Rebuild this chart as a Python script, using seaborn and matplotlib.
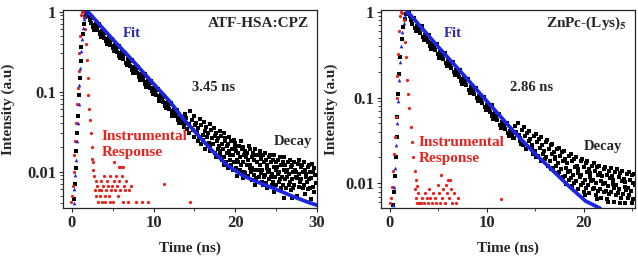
import matplotlib
matplotlib.use("Agg")
import matplotlib.pyplot as plt
import matplotlib.ticker as mticker
import seaborn as sns

# ---------------- data ----------------
# Panel A: ATF-HSA:CPZ
decay_a_t = [
    0.25, 0.35, 0.45, 0.55, 0.65, 0.75, 0.85, 0.95, 1.05, 1.15, 1.3, 1.45, 1.6, 1.75, 1.9,
    2.1, 2.3, 2.5, 2.7, 2.9, 3.1, 3.3, 3.5, 3.7, 3.9, 4.1, 4.3, 4.5, 4.7, 4.9, 5.1, 5.3, 5.5,
    5.7, 5.9, 6.1, 6.3, 6.5, 6.7, 6.9, 7.1, 7.3, 7.5, 7.7, 7.9, 8.1, 8.3, 8.5, 8.7, 8.9, 9.1,
    9.3, 9.5, 9.7, 9.9, 10.1, 10.3, 10.5, 10.7, 10.9, 11.1, 11.3, 11.5, 11.7, 11.9, 12.1,
    12.3, 12.5, 12.7, 12.9, 13.1, 13.3, 13.5,
    2.2, 2.4, 2.6, 2.8, 3.0, 3.2, 3.4, 3.6, 3.8, 4.0, 4.2, 4.4, 4.6, 4.8, 5.0, 5.2, 5.4, 5.6,
    5.8, 6.0, 6.2, 6.4, 6.6, 6.8, 7.0, 7.2, 7.4, 7.6, 7.8, 8.0, 8.2, 8.4, 8.6, 8.8, 9.0, 9.2,
    9.4, 9.6, 9.8, 10.0, 10.2, 10.4, 10.6, 10.8, 11.0, 11.2, 11.4, 11.6, 11.8, 12.0, 12.2,
    12.4, 12.6, 12.8, 13.0, 13.2, 13.4,
    13.8, 13.92, 13.7, 13.98, 14.12, 14.48, 14.27, 14.38, 14.65, 14.8, 15.0, 15.12, 14.9,
    15.18, 15.32, 15.43, 15.68, 15.47, 15.58, 15.85, 16.0, 15.76, 16.2, 16.32, 16.1, 16.25,
    16.38, 16.52, 16.63, 16.88, 16.67, 16.78, 16.94, 17.05, 17.2, 16.96, 17.4, 17.52, 17.3, 17.45,
    17.58, 17.72, 17.83, 17.64, 18.08, 17.87, 17.98, 18.14, 18.25, 18.4, 18.16, 18.31,
    18.6, 18.72, 18.5, 18.65, 18.56, 18.78, 18.92, 19.03, 18.84, 19.28, 19.07, 19.18, 19.34, 19.11,
    19.45, 19.6, 19.36, 19.51, 19.8, 19.92, 19.7, 19.85, 19.76, 19.98, 20.12, 20.23, 20.04, 20.18,
    20.48, 20.27, 20.38, 20.54, 20.65, 20.8, 20.56, 20.71, 20.83, 21.0, 21.12, 20.9, 21.05, 20.96,
    21.18, 21.32, 21.43, 21.24, 21.68, 21.47, 21.58, 21.74, 21.51, 21.85, 22.0, 21.76, 21.91, 22.03,
    22.2, 22.32, 22.1, 22.25, 22.38, 22.52, 22.63, 22.44, 22.58, 22.36, 22.88, 22.67, 22.78, 22.94,
    23.05, 23.2, 22.96, 23.11, 23.23, 23.4, 23.52, 23.3, 23.45, 23.36, 23.58, 23.72, 23.83, 23.64,
    23.78, 24.08, 23.87, 23.98, 24.14, 23.91, 24.25, 24.4, 24.16, 24.31, 24.43, 24.6, 24.72, 24.5,
    24.65, 24.78, 24.92, 25.03, 24.84, 24.98, 24.76, 25.28, 25.07, 25.18, 25.34, 25.45, 25.6, 25.36,
    25.51, 25.63, 25.8, 25.92, 25.7, 25.85, 25.98, 26.12, 26.23, 26.04, 26.18, 25.96,
    26.48, 26.27, 26.38, 26.54, 26.65, 26.8, 26.56, 26.71, 26.83, 27.0, 27.12, 26.9, 27.05, 26.96,
    27.18, 27.32, 27.43, 27.24, 27.68, 27.47, 27.58, 27.74, 27.51, 27.85, 28.0, 27.76, 27.91,
    28.2, 28.32, 28.1, 28.25, 28.38, 28.52, 28.63, 28.44, 28.58, 28.88, 28.67, 28.78, 28.94,
    29.05, 29.2, 28.96, 29.11, 29.23, 29.4, 29.52, 29.3, 29.45, 29.58, 29.72, 29.83, 29.64,
]
decay_a_y = [
    0.0045, 0.007, 0.011, 0.018, 0.03, 0.05, 0.09, 0.15, 0.24, 0.36, 0.52, 0.7, 0.85, 0.95, 0.99,
    0.873, 0.716, 0.854, 0.598, 0.711, 0.582, 0.694, 0.486, 0.578, 0.474, 0.565, 0.396, 0.47,
    0.385, 0.459, 0.322, 0.383, 0.313, 0.374, 0.262, 0.312, 0.255, 0.305, 0.214, 0.254, 0.207,
    0.247, 0.173, 0.206, 0.169, 0.202, 0.141, 0.168, 0.138, 0.164, 0.115, 0.137, 0.112, 0.134,
    0.0935, 0.111, 0.091, 0.109, 0.076, 0.09, 0.074, 0.0886, 0.0623, 0.0732, 0.06, 0.072,
    0.05, 0.06, 0.049, 0.0587, 0.041, 0.0485, 0.04,
    0.788, 0.825, 0.646, 0.69, 0.641, 0.671, 0.526, 0.562, 0.522, 0.546, 0.428, 0.457, 0.424,
    0.444, 0.348, 0.372, 0.346, 0.362, 0.283, 0.302, 0.281, 0.294, 0.23, 0.247, 0.229, 0.24,
    0.187, 0.201, 0.186, 0.195, 0.153, 0.163, 0.151, 0.158, 0.124, 0.132, 0.123, 0.129, 0.101,
    0.108, 0.1, 0.105, 0.082, 0.088, 0.0815, 0.0854, 0.0668, 0.0713, 0.066, 0.0694, 0.0544,
    0.058, 0.054, 0.0565, 0.0442, 0.0473, 0.044,
    0.052, 0.041, 0.036, 0.047, 0.034, 0.058, 0.039, 0.03, 0.044, 0.033, 0.05, 0.038, 0.027,
    0.041, 0.031, 0.024, 0.046, 0.035, 0.026, 0.038, 0.029, 0.022, 0.042, 0.032, 0.025, 0.019,
    0.036, 0.027, 0.021, 0.039, 0.03, 0.023, 0.018, 0.033, 0.026, 0.02, 0.035, 0.028, 0.022, 0.017,
    0.03, 0.024, 0.019, 0.015, 0.032, 0.026, 0.021, 0.016, 0.028, 0.022, 0.018, 0.014,
    0.03, 0.024, 0.019, 0.015, 0.012, 0.026, 0.021, 0.017, 0.013, 0.027, 0.022, 0.018, 0.014, 0.011,
    0.024, 0.019, 0.016, 0.012, 0.025, 0.02, 0.016, 0.013, 0.0105, 0.023, 0.018, 0.014, 0.011, 0.0088,
    0.021, 0.017, 0.013, 0.0105, 0.024, 0.019, 0.015, 0.012, 0.0095, 0.02, 0.016, 0.013, 0.01, 0.0082,
    0.018, 0.015, 0.012, 0.0095, 0.021, 0.017, 0.014, 0.011, 0.0088, 0.019, 0.015, 0.012, 0.0098, 0.0078,
    0.017, 0.014, 0.011, 0.009, 0.019, 0.016, 0.013, 0.0105, 0.0082, 0.0068, 0.016, 0.013, 0.0105, 0.0085,
    0.018, 0.0145, 0.012, 0.0095, 0.0075, 0.016, 0.013, 0.0105, 0.0085, 0.0068, 0.017, 0.014, 0.011, 0.009,
    0.0072, 0.015, 0.012, 0.0098, 0.008, 0.0062, 0.016, 0.013, 0.0105, 0.0085, 0.0068, 0.014, 0.0115, 0.0092,
    0.0075, 0.016, 0.013, 0.0105, 0.0085, 0.0068, 0.0055, 0.014, 0.0115, 0.0092, 0.0075, 0.015, 0.012, 0.0098,
    0.008, 0.0062, 0.013, 0.0105, 0.0085, 0.0068, 0.015, 0.012, 0.0098, 0.008, 0.0062, 0.0047,
    0.013, 0.0105, 0.0085, 0.0068, 0.014, 0.0115, 0.0092, 0.0075, 0.0058, 0.012, 0.0098, 0.008, 0.0062, 0.0047,
    0.013, 0.0105, 0.0085, 0.0068, 0.0125, 0.01, 0.0082, 0.0065, 0.005, 0.014, 0.0115, 0.0092, 0.0075,
    0.012, 0.0098, 0.008, 0.0062, 0.013, 0.0105, 0.0085, 0.0068, 0.0052, 0.0115, 0.0092, 0.0075, 0.006,
    0.012, 0.0098, 0.008, 0.0062, 0.0046, 0.0125, 0.01, 0.0082, 0.0065, 0.011, 0.009, 0.0072, 0.0055,
]
irf_a_t = [
    -0.1, 0.0, 0.1, 0.2, 0.3, 0.4, 0.5, 0.6, 0.7, 0.8, 0.9, 1.0, 1.1, 1.2, 1.3, 1.45, 1.6, 1.7,
    1.8, 1.9, 2.0, 2.1, 2.2, 2.3, 2.4, 2.5, 2.6,
    2.6, 2.7, 2.8, 2.9, 3.0, 3.1, 3.2, 3.3, 3.4, 3.5, 3.6, 3.7, 3.8, 3.9, 4.0, 4.1, 4.2, 4.3,
    4.4, 4.5, 4.6, 4.7, 4.8, 4.9, 5.0, 5.1, 5.2, 5.3, 5.4, 5.5, 5.6, 5.7, 5.8, 5.9, 6.0, 6.1,
    6.2, 6.3, 6.4, 6.5, 6.6, 6.8, 7.0, 7.2, 7.8, 8.6, 9.3, 11.3, 14.4,
]
irf_a_y = [
    0.0042, 0.0049, 0.0066, 0.01, 0.016, 0.024, 0.04, 0.07, 0.11, 0.18, 0.3, 0.5, 0.9, 1.0,
    0.98, 0.85, 0.6, 0.4, 0.25, 0.15, 0.09, 0.06, 0.044, 0.03, 0.02, 0.0145, 0.0105,
    0.013, 0.0087, 0.0058, 0.0077, 0.0049, 0.0066, 0.0042, 0.0058, 0.0049, 0.0077, 0.0058,
    0.0042, 0.0066, 0.0087, 0.0049, 0.0042, 0.0058, 0.0077, 0.0066, 0.0049, 0.0042, 0.0087,
    0.0058, 0.0066, 0.0042, 0.0077, 0.013, 0.0058, 0.0087, 0.0066, 0.0049, 0.0115, 0.0077,
    0.0058, 0.0115, 0.0087, 0.0042, 0.0115, 0.0066, 0.0058, 0.0077, 0.0042, 0.0058, 0.0066,
    0.0042, 0.0042, 0.0042, 0.0069, 0.0042,
]
rise_a_t = [0.2, 0.3, 0.4, 0.5, 0.6, 0.7, 0.8, 0.9, 1.0, 1.1, 1.2, 1.35, 1.5, 1.65, 1.8]
rise_a_y = [0.004, 0.006, 0.009, 0.014, 0.024, 0.04, 0.07, 0.12, 0.2, 0.32, 0.45, 0.62, 0.8, 0.92, 0.99]
fit_a_t = [1.8, 1.95, 3, 5, 7.5, 10, 12, 13.6, 15, 17, 19, 21, 23, 25, 27, 29, 30]
fit_a_y = [0.99, 1.0, 0.76, 0.45, 0.24, 0.125, 0.075, 0.046, 0.032, 0.019, 0.012, 0.0088,
           0.0072, 0.006, 0.0049, 0.0041, 0.0038]

# Panel B: ZnPc-(Lys)5
decay_b_t = [
    0.35, 0.4, 0.5, 0.6, 0.7, 0.8, 0.9, 1.0, 1.1, 1.25, 1.4, 1.55, 1.7, 1.85, 2.0,
    2.1, 2.3, 2.5, 2.7, 2.9, 3.1, 3.3, 3.5, 3.7, 3.9, 4.1, 4.3, 4.5, 4.7, 4.9, 5.1, 5.3, 5.5,
    5.7, 5.9, 6.1, 6.3, 6.5, 6.7, 6.9, 7.1, 7.3, 7.5, 7.7, 7.9, 8.1, 8.3, 8.5, 8.7, 8.9, 9.1,
    9.3, 9.5, 9.7, 9.9, 10.1, 10.3, 10.5, 10.7, 10.9, 11.1, 11.3, 11.5, 11.7, 11.9, 12.1,
    12.3, 12.5, 12.7,
    2.2, 2.4, 2.6, 2.8, 3.0, 3.2, 3.4, 3.6, 3.8, 4.0, 4.2, 4.4, 4.6, 4.8, 5.0, 5.2, 5.4, 5.6,
    5.8, 6.0, 6.2, 6.4, 6.6, 6.8, 7.0, 7.2, 7.4, 7.6, 7.8, 8.0, 8.2, 8.4, 8.6, 8.8, 9.0, 9.2,
    9.4, 9.6, 9.8, 10.0, 10.2, 10.4, 10.6, 10.8, 11.0, 11.2, 11.4, 11.6, 11.8, 12.0, 12.2,
    12.4, 12.6, 12.8,
    12.9, 13.02, 12.8, 13.18, 13.32, 13.43, 13.68, 13.47, 13.58, 13.85, 14.0, 13.76,
    14.2, 14.32, 14.1, 14.38, 14.52, 14.63, 14.88, 14.67, 14.78, 15.05, 15.2, 14.96, 15.11,
    15.4, 15.52, 15.3, 15.58, 15.72, 15.83, 15.64, 16.08, 15.87, 15.98, 16.25, 16.4, 16.16, 16.31,
    16.6, 16.72, 16.5, 16.65, 16.78, 16.92, 17.03, 16.84, 17.28, 17.07, 17.18, 17.34,
    17.45, 17.6, 17.36, 17.51, 17.8, 17.92, 17.7, 17.85, 17.98, 18.12, 18.23, 18.04, 18.18,
    18.48, 18.27, 18.38, 18.54, 18.65, 18.8, 18.56, 18.71, 18.83, 19.0, 19.12, 18.9, 19.05,
    19.18, 19.32, 19.43, 19.24, 19.38, 19.68, 19.47, 19.58, 19.74, 19.85, 20.0, 19.76, 19.91, 20.03,
    20.2, 20.32, 20.1, 20.25, 20.16, 20.38, 20.52, 20.63, 20.44, 20.58, 20.88, 20.67, 20.78, 20.94,
    21.05, 21.2, 20.96, 21.11, 21.23, 21.4, 21.52, 21.3, 21.45, 21.36, 21.58, 21.72, 21.83, 21.64,
    21.78, 22.08, 21.87, 21.98, 22.14, 22.25, 22.4, 22.16, 22.31, 22.43, 22.6, 22.72, 22.5, 22.65,
    22.56, 22.78, 22.92, 23.03, 22.84, 23.28, 23.07, 23.18, 23.34, 23.11, 23.45, 23.6, 23.36, 23.51,
    23.8, 23.92, 23.7, 23.85, 23.76, 23.98, 24.12, 24.23, 24.04, 24.48, 24.27, 24.38, 24.54, 24.31,
    24.65, 24.8, 24.56, 24.71, 25.0, 25.12, 24.9, 25.05, 24.96, 25.15, 25.25,
]
decay_b_y = [
    0.0055, 0.008, 0.012, 0.02, 0.035, 0.06, 0.11, 0.19, 0.3, 0.48, 0.66, 0.82, 0.94, 0.99, 0.96,
    0.885, 0.721, 0.853, 0.594, 0.7, 0.569, 0.675, 0.469, 0.553, 0.45, 0.533, 0.371, 0.437,
    0.356, 0.421, 0.293, 0.345, 0.281, 0.333, 0.232, 0.273, 0.222, 0.263, 0.183, 0.216, 0.175,
    0.208, 0.144, 0.17, 0.139, 0.164, 0.114, 0.135, 0.11, 0.13, 0.0904, 0.106, 0.0869, 0.102,
    0.0713, 0.0841, 0.0684, 0.081, 0.0563, 0.0664, 0.054, 0.064, 0.0445, 0.0524, 0.0427,
    0.0506, 0.0352, 0.0414, 0.0337,
    0.796, 0.828, 0.643, 0.682, 0.63, 0.654, 0.509, 0.539, 0.497, 0.517, 0.402, 0.427, 0.393,
    0.408, 0.318, 0.337, 0.31, 0.323, 0.251, 0.266, 0.246, 0.255, 0.198, 0.211, 0.194, 0.202,
    0.157, 0.166, 0.153, 0.159, 0.123, 0.131, 0.121, 0.126, 0.0976, 0.104, 0.0959, 0.0999,
    0.0773, 0.082, 0.0756, 0.0786, 0.061, 0.0647, 0.0597, 0.0621, 0.0482, 0.0512, 0.0472,
    0.0491, 0.0382, 0.0405, 0.0373, 0.0388,
    0.046, 0.04, 0.034, 0.05, 0.037, 0.031, 0.042, 0.034, 0.029, 0.045, 0.036, 0.028,
    0.039, 0.031, 0.025, 0.041, 0.033, 0.026, 0.036, 0.028, 0.022, 0.038, 0.03, 0.024, 0.02,
    0.033, 0.026, 0.021, 0.035, 0.028, 0.022, 0.018, 0.03, 0.024, 0.019, 0.032, 0.025, 0.02, 0.016,
    0.028, 0.022, 0.018, 0.0145, 0.029, 0.023, 0.019, 0.015, 0.025, 0.02, 0.016, 0.013,
    0.026, 0.021, 0.017, 0.0135, 0.023, 0.018, 0.0145, 0.0118, 0.024, 0.019, 0.015, 0.012, 0.0098,
    0.021, 0.017, 0.0135, 0.011, 0.022, 0.018, 0.014, 0.0115, 0.0093, 0.019, 0.0155, 0.0125, 0.01,
    0.02, 0.016, 0.013, 0.0105, 0.0085, 0.018, 0.0145, 0.0118, 0.0095, 0.019, 0.0155, 0.0125, 0.01, 0.0079,
    0.017, 0.0135, 0.011, 0.0088, 0.0072, 0.018, 0.0145, 0.0118, 0.0095, 0.0077, 0.016, 0.013, 0.0105, 0.0085,
    0.017, 0.0138, 0.011, 0.0089, 0.0072, 0.0155, 0.0125, 0.01, 0.0081, 0.0066, 0.016, 0.013, 0.0105, 0.0085,
    0.0068, 0.0148, 0.012, 0.0097, 0.0078, 0.0155, 0.0125, 0.01, 0.0081, 0.0065, 0.014, 0.0115, 0.0093, 0.0075,
    0.006, 0.015, 0.012, 0.0097, 0.0078, 0.0135, 0.011, 0.0089, 0.0072, 0.006, 0.0145, 0.0118, 0.0095, 0.0077,
    0.013, 0.0105, 0.0085, 0.0068, 0.0059, 0.014, 0.0113, 0.0091, 0.0074, 0.0128, 0.0103, 0.0083, 0.0068, 0.0059,
    0.0135, 0.011, 0.0089, 0.0072, 0.0125, 0.01, 0.0081, 0.0065, 0.0059, 0.0128, 0.0095,
]
irf_b_t = [
    0.0, 0.1, 0.2, 0.3, 0.4, 0.5, 0.6, 0.7, 0.8, 0.9, 1.0, 1.1, 1.2, 1.3, 1.45, 1.6, 1.7, 1.8,
    1.9, 2.0, 2.15, 2.3, 2.45, 2.6, 2.7, 2.8,
    2.6, 2.7, 2.8, 2.9, 3.0, 3.2, 3.3, 3.5, 3.6, 3.8, 3.9, 4.1, 4.2, 4.4, 4.5, 4.7, 4.8, 5.0,
    5.1, 5.2, 5.3, 5.4, 5.5, 5.7, 5.8, 5.9, 6.0, 6.1, 6.2, 6.3, 6.4, 6.6, 6.8, 7.0, 11.5,
]
irf_b_y = [
    0.0059, 0.0068, 0.009, 0.014, 0.022, 0.035, 0.06, 0.1, 0.18, 0.32, 0.6, 0.9, 1.0, 0.98,
    0.8, 0.45, 0.3, 0.16, 0.11, 0.075, 0.045, 0.03, 0.02, 0.014, 0.011, 0.0093,
    0.0086, 0.0068, 0.0059, 0.0076, 0.0059, 0.0059, 0.0068, 0.0059, 0.0076, 0.0068, 0.0059,
    0.0086, 0.0068, 0.0059, 0.0076, 0.0068, 0.0059, 0.0096, 0.0076, 0.0059, 0.0126, 0.0068,
    0.0086, 0.0059, 0.0096, 0.0076, 0.011, 0.0068, 0.011, 0.0086, 0.0059, 0.0076, 0.0059,
    0.0068, 0.0066,
]
rise_b_t = [0.35, 0.45, 0.55, 0.65, 0.75, 0.85, 0.95, 1.05, 1.15, 1.3, 1.45, 1.6, 1.75]
rise_b_y = [0.0055, 0.009, 0.015, 0.028, 0.05, 0.09, 0.16, 0.26, 0.4, 0.58, 0.75, 0.9, 0.98]
fit_b_t = [1.75, 1.86, 3, 5, 7.5, 10, 12.9, 15, 16.7, 18.5, 20.2, 21.7]
fit_b_y = [0.98, 1.0, 0.71, 0.39, 0.19, 0.091, 0.039, 0.022, 0.0145, 0.0092, 0.0062, 0.0051]

BLUE = "#1c25e0"
BLUE_TXT = "#2a2aa8"
RED = "#e8231d"

sns.set_style("ticks")
plt.rcParams["font.family"] = ["Liberation Serif", "DejaVu Serif"]
plt.rcParams["font.weight"] = "bold"
plt.rcParams["mathtext.fontset"] = "stix"

fig = plt.figure(figsize=(6.38, 2.61), dpi=100)
ax_a = fig.add_axes([63 / 638, 1 - 208 / 261, 254 / 638, 198 / 261])
ax_b = fig.add_axes([381 / 638, 1 - 208.3 / 261, 254 / 638, 198.3 / 261])


def draw_panel(ax, dt, dy, it, iy, rt, ry, ft, fy, xlim, ylim, xticks):
    sns.scatterplot(x=dt, y=dy, ax=ax, color="black", marker="s", s=5, linewidth=0)
    sns.scatterplot(x=it, y=iy, ax=ax, color=RED, marker="o", s=5.5, linewidth=0)
    sns.scatterplot(x=rt, y=ry, ax=ax, color=BLUE, marker="^", s=7, linewidth=0)
    sns.lineplot(x=ft, y=fy, ax=ax, color=BLUE, linewidth=2.7)
    ax.set_yscale("log")
    ax.set_xlim(*xlim)
    ax.set_ylim(*ylim)
    ax.set_xticks(xticks)
    ax.xaxis.set_minor_locator(mticker.MultipleLocator(5))
    ax.yaxis.set_major_locator(mticker.FixedLocator([0.01, 0.1, 1]))
    ax.yaxis.set_major_formatter(mticker.FixedFormatter(["0.01", "0.1", "1"]))
    ax.yaxis.set_minor_formatter(mticker.NullFormatter())
    ax.tick_params(which="major", direction="out", length=3, width=0.8, labelsize=12, pad=2)
    ax.tick_params(which="minor", direction="out", length=2, width=0.6)
    for sp in ax.spines.values():
        sp.set_linewidth(0.9)
    ax.set_xlabel("Time (ns)", fontsize=11, fontweight="bold")
    ax.set_ylabel("Intensity (a.u)", fontsize=11, fontweight="bold")


draw_panel(ax_a, decay_a_t, decay_a_y, irf_a_t, irf_a_y, rise_a_t, rise_a_y,
           fit_a_t, fit_a_y, (-1.1, 30), (0.0035, 1.05), [0, 10, 20, 30])
draw_panel(ax_b, decay_b_t, decay_b_y, irf_b_t, irf_b_y, rise_b_t, rise_b_y,
           fit_b_t, fit_b_y, (-0.9, 25.3), (0.0051, 1.05), [0, 10, 20])

ax_a.yaxis.set_label_coords(-0.189, 0.5)
ax_b.yaxis.set_label_coords(-0.169, 0.5)
ax_a.xaxis.set_label_coords(0.5, -0.17)
ax_b.xaxis.set_label_coords(0.5, -0.17)

# annotations
for ax, name, life in [(ax_a, "ATF-HSA:CPZ", "3.45 ns"), (ax_b, "ZnPc-(Lys)$_\\mathbf{5}$", "2.86 ns")]:
    ax.text(0.97, 0.933, name, transform=ax.transAxes, ha="right", va="center",
            fontsize=11, fontweight="bold")
    ax.text(0.507, 0.61, life, transform=ax.transAxes, ha="left", va="center",
            fontsize=10.5, fontweight="bold")

ax_a.text(0.236, 0.882, "Fit", transform=ax_a.transAxes, color=BLUE_TXT,
          fontsize=10.5, fontweight="bold", va="center")
ax_b.text(0.248, 0.882, "Fit", transform=ax_b.transAxes, color=BLUE_TXT,
          fontsize=10.5, fontweight="bold", va="center")
ax_a.text(0.152, 0.32, "Instrumental\nResponse", transform=ax_a.transAxes, color=RED,
          fontsize=11, fontweight="bold", va="center", linespacing=1.3)
ax_b.text(0.148, 0.293, "Instrumental\nResponse", transform=ax_b.transAxes, color=RED,
          fontsize=11, fontweight="bold", va="center", linespacing=1.3)
ax_a.text(0.83, 0.335, "Decay", transform=ax_a.transAxes, fontsize=10.5,
          fontweight="bold", va="center")
ax_b.text(0.80, 0.31, "Decay", transform=ax_b.transAxes, fontsize=10.5,
          fontweight="bold", va="center")

fig.savefig("out.png", dpi=100)
